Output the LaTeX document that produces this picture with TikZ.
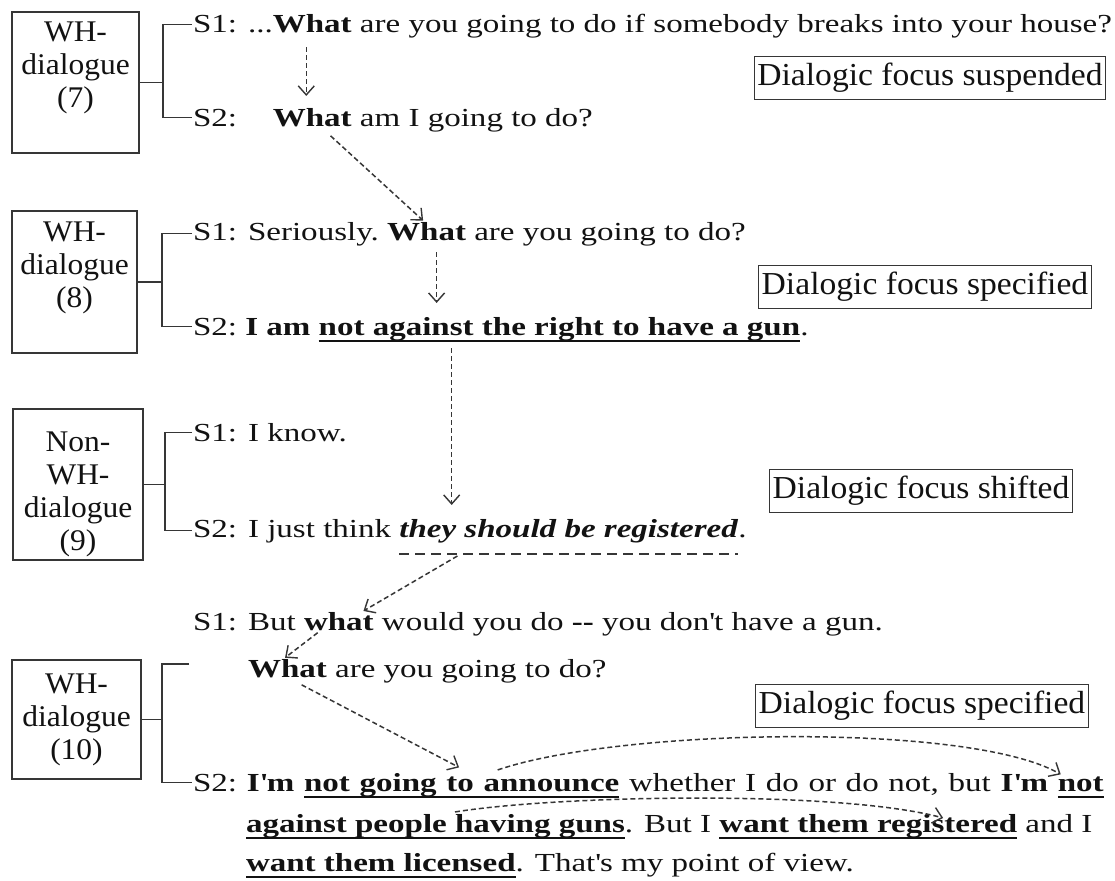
\documentclass[tikz,border=0pt]{standalone}
\usepackage{fontspec}
\setmainfont{Liberation Serif}[FakeStretch=1.27]
\newfontfamily\lblfamily{Liberation Serif}[FakeStretch=1.05]
\usetikzlibrary{arrows.meta,calc}
\newcommand\bodyfont{\fontsize{26}{30}\selectfont}
\newcommand\widebodyfont{\fontsize{26}{30}\selectfont\spaceskip=9.7pt\relax}
\newcommand\boxfont{\lblfamily\fontsize{30}{33}\selectfont}
\newcommand\dffont{\lblfamily\fontsize{32}{36}\selectfont}
\newcommand\myul[1]{\setbox0=\hbox{#1}\rlap{\rule[-7pt]{\wd0}{2.5pt}}\box0}
\newcommand\apos{\textquotesingle}
\definecolor{ink}{HTML}{121212}
\definecolor{linegray}{HTML}{363636}
\begin{document}
\begin{tikzpicture}[x=1pt,y=-1pt,
  seg/.style={anchor=base west,inner sep=0pt,outer sep=0pt,font=\bodyfont,text=ink},
  nxt/.style={seg,at={(#1.base east)}},
  wideseg/.style={font=\widebodyfont},
  lbox/.style={draw=linegray,line width=1.4pt,inner sep=0pt},
  lbltxt/.style={font=\boxfont,align=center,inner sep=0pt,text=ink},
  dfbox/.style={draw=linegray,line width=1.3pt,font=\dffont,text=ink,inner xsep=3pt,inner ysep=6pt,text height=23pt,text depth=8pt},
  brk/.style={draw=linegray,line width=1.3pt},
  darr/.style={draw=linegray,line width=1.5pt,dash pattern=on 5pt off 3pt,-{Straight Barb[length=9pt,width=16pt,line width=1.4pt]}},
  dline/.style={draw=linegray,line width=1.6pt,dash pattern=on 10pt off 6pt}]
\fill[white] (0,0) rectangle (1115,880);
\useasboundingbox (0,0) rectangle (1115,880);

% ---------- block (7)
\node[lbox,minimum width=127pt,minimum height=141pt] (b7) at (75.5,82.5) {};
\node[lbltxt] (t7) at (75.5,68) {WH-\\dialogue\\(7)};
\node[seg] (s7a) at (193,33) {S1: ...};
\node[nxt=s7a] (w7a) {\textbf{What}};
\node[nxt=w7a] (r7a) {\ are you going to do if somebody breaks into your house?};
\node[seg] (s7b) at (193,126) {S2:};
\node[seg] (w7b) at (w7a.base west |- s7b.base) {\textbf{What}};
\node[nxt=w7b] (r7b) {\ am I going to do?};
\node[dfbox] (df7) at (930,78) {Dialogic focus suspended};
\coordinate (j7) at (163,82);
\draw[brk] (b7.east) -- (b7.east -| j7);
\draw[brk] ([xshift=-1pt]s7a.west) -| (j7) |- ([xshift=-1pt]s7b.west);

% ---------- block (8)
\node[lbox,minimum width=125pt,minimum height=142pt] (b8) at (74.5,282) {};
\node[lbltxt] (t8) at (74.5,268) {WH-\\dialogue\\(8)};
\node[seg] (s8a) at (193,240) {S1: Seriously.\ \mbox{}};
\node[nxt=s8a] (w8a) {\textbf{What}};
\node[nxt=w8a] (r8a) {\ are you going to do?};
\node[seg] (s8b) at (193,335) {S2:\ \textbf{I am}\ \mbox{}};
\node[nxt=s8b] (gun8) {\myul{\textbf{not against the right to have a gun}}};
\node[nxt=gun8] (d8) {.};
\node[dfbox] (df8) at (925,287) {Dialogic focus specified};
\coordinate (j8) at (162,277);
\draw[brk] (b8.east) -- (b8.east -| j8);
\draw[brk] ([xshift=-1pt]s8a.west) -| (j8) |- ([xshift=-1pt]s8b.west);

% ---------- block (9)
\node[lbox,minimum width=130pt,minimum height=151pt] (b9) at (78,484.5) {};
\node[lbltxt] (t9) at (78,494) {Non-\\WH-\\dialogue\\(9)};
\node[seg] (s9a) at (193,441) {S1: I know.};
\node[seg] (s9b) at (193,537) {S2: I just think\ \mbox{}};
\node[nxt=s9b] (they9) {\textbf{\textit{they should be registered}}};
\node[nxt=they9] (d9) {.};
\node[dfbox] (df9) at (921,491) {Dialogic focus shifted};
\coordinate (j9) at (165,482);
\draw[brk] (b9.east) -- (b9.east -| j9);
\draw[brk] ([xshift=-1pt]s9a.west) -| (j9) |- ([xshift=-1pt]s9b.west);
\draw[dline] ([yshift=-17pt]they9.base west) -- ([yshift=-17pt]they9.base east);

% ---------- block (10)
\node[seg] (s10a) at (193,630) {S1: But\ \mbox{}};
\node[nxt=s10a] (w10a) {\textbf{what}};
\node[nxt=w10a] (r10a) {\ would you do \textbf{-{}-} you don\apos t have a gun.};
\node[seg] (w10b) at (248,677) {\textbf{What}};
\node[nxt=w10b] (r10b) {\ are you going to do?};
\node[lbox,minimum width=129pt,minimum height=119pt] (b10) at (76.5,719.5) {};
\node[lbltxt] (t10) at (b10.center) {WH-\\dialogue\\(10)};
\node[dfbox] (df10) at (922,706) {Dialogic focus specified};
\node[seg,wideseg] (s10c) at (193,791) {S2:\ \textbf{I\apos m}\ \mbox{}};
\node[nxt=s10c,wideseg] (annc) {\myul{\textbf{not going to announce}}};
\node[nxt=annc,wideseg] (r10c) {\ whether I do or do not, but \textbf{I\apos m}\ \mbox{}};
\node[nxt=r10c] (not10) {\myul{\textbf{not}}};
\node[seg] (agp) at (246,832) {\myul{\textbf{against people having guns}}};
\node[nxt=agp] (r10d) {. But I\ \mbox{}};
\node[nxt=r10d] (wtr) {\myul{\textbf{want them registered}}};
\node[nxt=wtr] (r10e) {\ and I};
\node[seg] (wtl) at (246,871) {\myul{\textbf{want them licensed}}};
\node[nxt=wtl] (r10f) {. That\apos s my point of view.};
\coordinate (j10) at (162,723);
\coordinate (k10) at (189,664);
\draw[brk] (b10.east) -- (b10.east -| j10);
\draw[brk] (k10) -| (j10) |- ([xshift=-1pt]s10c.west);

% ---------- dashed arrows
\draw[darr,shorten <=14pt,shorten >=12pt] ([xshift=-6pt]w7a.south) -- ([xshift=-6pt]w7a.south |- w7b.north);
\draw[darr,shorten <=14pt,shorten >=2pt] ([xshift=8pt]w7b.south) -- ([xshift=-2pt]w8a.north);
\draw[darr,shorten <=12pt,shorten >=14pt] ([xshift=10pt]w8a.south) -- ([xshift=10pt]w8a.south |- gun8.north);
\draw[darr,shorten <=6pt,shorten >=14pt] ([xshift=133pt]gun8.south west) -- ([xshift=133pt]gun8.south west |- they9.north);
\draw[darr,shorten >=2pt] ([xshift=58pt,yshift=-19pt]they9.base west) -- ([xshift=-12pt]w10a.north east);
\draw[darr,shorten <=4pt,shorten >=2pt] ([xshift=-18pt]w10a.south) -- ([xshift=-4pt]w10b.north);
\draw[darr,shorten <=16pt,shorten >=12pt] (w10b.south) -- ([xshift=8pt]annc.north);
\draw[darr] ([xshift=36pt,yshift=3pt]annc.north) .. controls (620,728) and (970,722) .. ([xshift=-20pt,yshift=2pt]not10.north);
\draw[darr] ([xshift=209pt,yshift=2pt]agp.north west) .. controls (560,795) and (840,790) .. ([xshift=-74pt,yshift=-4pt]wtr.north east);
\end{tikzpicture}
\end{document}
